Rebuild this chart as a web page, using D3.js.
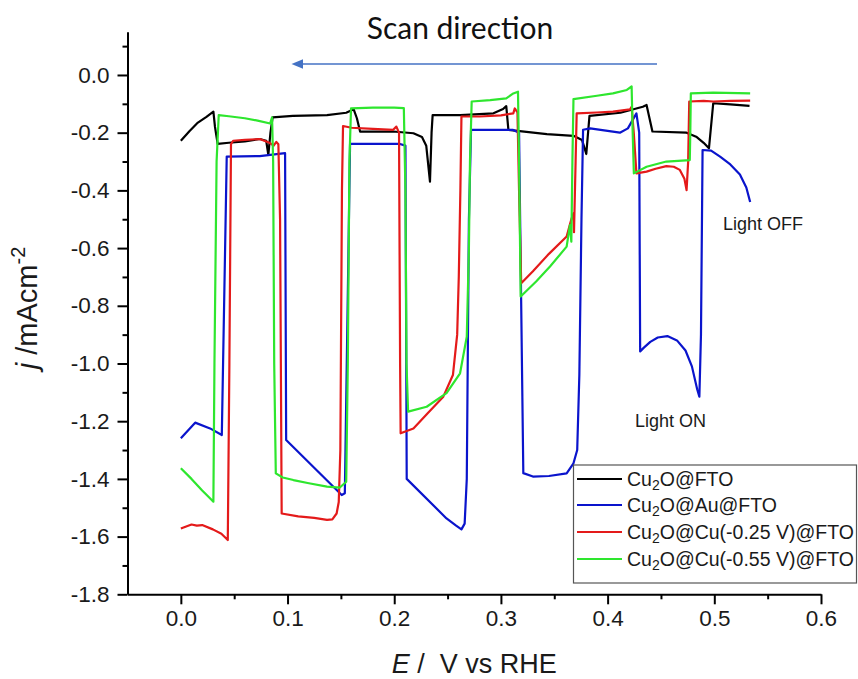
<!DOCTYPE html>
<html>
<head>
<meta charset="utf-8">
<script src="https://d3js.org/d3.v7.min.js"></script>
<style>
    body { margin: 0; background: #fff; }
    svg { display: block; }
</style>
</head>
<body>
<svg id="chart" width="858" height="679"></svg>
<script>
// values: [E (V vs RHE), j (mA cm-2)]
const cuFto = [
    [0.0, -0.228], [0.008, -0.195], [0.016, -0.165], [0.024, -0.145], [0.0305, -0.127],
    [0.032, -0.18], [0.0345, -0.239], [0.045, -0.235], [0.06, -0.23], [0.074, -0.222],
    [0.080, -0.228], [0.082, -0.277], [0.084, -0.2], [0.086, -0.147], [0.105, -0.142],
    [0.137, -0.139], [0.155, -0.131], [0.162, -0.119], [0.165, -0.15], [0.168, -0.196],
    [0.199, -0.196], [0.218, -0.202], [0.226, -0.215], [0.230, -0.245], [0.2335, -0.370],
    [0.235, -0.2], [0.236, -0.139], [0.262, -0.139], [0.293, -0.133], [0.302, -0.118],
    [0.305, -0.108], [0.307, -0.19], [0.343, -0.205], [0.368, -0.211], [0.376, -0.225],
    [0.380, -0.274], [0.383, -0.142], [0.412, -0.131], [0.433, -0.110], [0.4365, -0.104],
    [0.442, -0.196], [0.474, -0.200], [0.483, -0.214], [0.490, -0.235], [0.495, -0.254],
    [0.499, -0.098], [0.515, -0.102], [0.533, -0.107]
]

const cuAuFto = [
    [0.0, -1.259], [0.0134, -1.205], [0.0274, -1.225], [0.0384, -1.248], [0.043, -0.283],
    [0.074, -0.281], [0.0977, -0.271], [0.0987, -1.265], [0.1508, -1.456], [0.1537, -1.45],
    [0.1586, -0.239], [0.2054, -0.239], [0.2105, -0.245], [0.2117, -1.40], [0.249, -1.537],
    [0.258, -1.562], [0.263, -1.575], [0.266, -1.555], [0.268, -1.40], [0.270, -0.5],
    [0.272, -0.19], [0.311, -0.19], [0.317, -0.20], [0.318, -0.5], [0.321, -1.38],
    [0.330, -1.392], [0.345, -1.39], [0.3616, -1.381], [0.368, -1.346], [0.3715, -1.30],
    [0.3735, -1.04], [0.3755, -0.5], [0.377, -0.19], [0.3836, -0.185], [0.4115, -0.20],
    [0.419, -0.185], [0.427, -0.133], [0.4296, -0.2], [0.4305, -0.958], [0.434, -0.945],
    [0.440, -0.925], [0.447, -0.91], [0.456, -0.905], [0.465, -0.92], [0.473, -0.955],
    [0.479, -1.01], [0.484, -1.09], [0.486, -1.115], [0.4875, -0.9], [0.489, -0.26],
    [0.497, -0.262], [0.5054, -0.283], [0.515, -0.31], [0.524, -0.345], [0.530, -0.39],
    [0.5336, -0.44]
]

const cuCu025 = [
    [0.0, -1.572], [0.005, -1.565], [0.01, -1.558], [0.015, -1.562], [0.02, -1.56],
    [0.03, -1.575], [0.038, -1.59], [0.044, -1.612], [0.0455, -1.0], [0.047, -0.24],
    [0.049, -0.228], [0.06, -0.225], [0.074, -0.222], [0.083, -0.235], [0.087, -0.245],
    [0.0895, -0.232], [0.0914, -0.24], [0.093, -0.5], [0.0945, -1.52], [0.110, -1.53],
    [0.125, -1.535], [0.137, -1.542], [0.142, -1.54], [0.146, -1.52], [0.148, -1.48],
    [0.1495, -1.3], [0.151, -0.4], [0.152, -0.177], [0.16, -0.183], [0.18, -0.187],
    [0.199, -0.19], [0.202, -0.179], [0.2045, -0.2], [0.2055, -1.0], [0.206, -1.242],
    [0.218, -1.225], [0.232, -1.17], [0.246, -1.115], [0.255, -1.04], [0.259, -0.9],
    [0.2605, -0.7], [0.262, -0.4], [0.263, -0.144], [0.28, -0.144], [0.3, -0.14],
    [0.3116, -0.133], [0.313, -0.116], [0.3155, -0.13], [0.317, -0.4], [0.319, -0.722],
    [0.33, -0.68], [0.345, -0.62], [0.3616, -0.56], [0.366, -0.50], [0.368, -0.48],
    [0.3685, -0.545], [0.370, -0.30], [0.371, -0.133], [0.39, -0.13], [0.405, -0.127],
    [0.421, -0.119], [0.4225, -0.11], [0.4245, -0.2], [0.427, -0.341], [0.4365, -0.335],
    [0.445, -0.325], [0.455, -0.316], [0.462, -0.318], [0.4677, -0.329], [0.472, -0.36],
    [0.474, -0.399], [0.4755, -0.3], [0.4765, -0.092], [0.49, -0.09], [0.499, -0.092],
    [0.515, -0.09], [0.5336, -0.089]
]

const cuCu055 = [
    [0.0, -1.363], [0.01, -1.40], [0.02, -1.44], [0.028, -1.47], [0.0305, -1.479],
    [0.0315, -1.0], [0.0335, -0.3], [0.0355, -0.139], [0.045, -0.143], [0.06, -0.150],
    [0.072, -0.158], [0.0837, -0.168], [0.0855, -0.147], [0.0865, -0.30], [0.0875, -1.0],
    [0.089, -1.381], [0.0955, -1.395], [0.1055, -1.404], [0.12, -1.415], [0.137, -1.427],
    [0.149, -1.43], [0.155, -1.41], [0.1565, -1.0], [0.158, -0.3], [0.1595, -0.116],
    [0.18, -0.113], [0.20, -0.113], [0.209, -0.115], [0.2105, -0.4], [0.2115, -1.0],
    [0.213, -1.167], [0.2304, -1.150], [0.249, -1.103], [0.2617, -1.034], [0.268, -0.907],
    [0.270, -0.6], [0.271, -0.3], [0.2726, -0.092], [0.29, -0.087], [0.305, -0.081],
    [0.3116, -0.064], [0.316, -0.058], [0.317, -0.3], [0.3185, -0.768], [0.333, -0.716],
    [0.346, -0.664], [0.3616, -0.595], [0.3647, -0.52], [0.366, -0.578], [0.367, -0.3],
    [0.368, -0.084], [0.39, -0.072], [0.405, -0.064], [0.418, -0.052], [0.4225, -0.040],
    [0.4235, -0.2], [0.4246, -0.341], [0.4365, -0.318], [0.455, -0.300], [0.477, -0.295],
    [0.4775, -0.2], [0.478, -0.064], [0.499, -0.061], [0.5336, -0.064]
]

const seriesNames = ["Cu2O@FTO", "Cu2O@Au@FTO", "Cu2O@Cu(-0.25 V)@FTO", "Cu2O@Cu(-0.55 V)@FTO"]
const seriesColors = ["#000000", "#0a14cc", "#e41a1a", "#2ee62e"]
const allSeries = [cuFto, cuAuFto, cuCu025, cuCu055]

const xMajor = [0.0, 0.1, 0.2, 0.3, 0.4, 0.5, 0.6]
const xMinor = [0.05, 0.15, 0.25, 0.35, 0.45, 0.55]
const yMajor = [0.0, -0.2, -0.4, -0.6, -0.8, -1.0, -1.2, -1.4, -1.6, -1.8]
const yMinor = [0.1, -0.1, -0.3, -0.5, -0.7, -0.9, -1.1, -1.3, -1.5, -1.7]

const svg = d3.select("#chart")
const font = "'Liberation Sans', Arial, sans-serif"

const x = d3.scaleLinear().domain([-0.05, 0.6]).range([127.5, 821])
const y = d3.scaleLinear().domain([-1.8, 0.15]).range([594.3, 31.7])

// axes
const xAxis = svg.append("g").attr("transform", `translate(0,${y(-1.8)})`)
xAxis.call(d3.axisBottom(x).tickValues(xMajor).tickSize(10).tickSizeOuter(0).tickPadding(6)
    .tickFormat(d3.format(".1f")))
svg.append("g").attr("transform", `translate(0,${y(-1.8)})`)
    .call(d3.axisBottom(x).tickValues(xMinor).tickSize(5).tickSizeOuter(0).tickFormat(""))
    .select(".domain").remove()

const yAxis = svg.append("g").attr("transform", `translate(${x(-0.05)},0)`)
yAxis.call(d3.axisLeft(y).tickValues(yMajor).tickSize(10).tickSizeOuter(0).tickPadding(8)
    .tickFormat(d3.format(".1f")))
svg.append("g").attr("transform", `translate(${x(-0.05)},0)`)
    .call(d3.axisLeft(y).tickValues(yMinor).tickSize(5).tickSizeOuter(0).tickFormat(""))
    .select(".domain").remove()

svg.selectAll(".domain, .tick line")
    .attr("stroke", "#000")
    .attr("stroke-width", 2)
svg.selectAll(".tick text")
    .attr("font-family", font)
    .attr("font-size", 22.5)
    .attr("fill", "#1a1a1a")
    .text(function () { return this.textContent.replace("\u2212", "-") })

// curves
const line = d3.line().x(d => x(d[0])).y(d => y(d[1]))
svg.append("g").selectAll("path")
    .data(allSeries)
    .join("path")
    .attr("d", line)
    .attr("fill", "none")
    .attr("stroke", (d, i) => seriesColors[i])
    .attr("stroke-width", 2.2)
    .attr("stroke-linejoin", "round")

// axis titles
const xTitle = svg.append("text")
    .attr("x", (x(-0.05) + x(0.6)) / 2)
    .attr("y", 673)
    .attr("text-anchor", "middle")
    .attr("font-family", font)
    .attr("font-size", 27)
    .attr("fill", "#1a1a1a")
    .attr("xml:space", "preserve")
xTitle.append("tspan").attr("font-style", "italic").text("E")
xTitle.append("tspan").text(" /  V vs RHE")

const yTitle = svg.append("text")
    .attr("transform", "translate(37,308) rotate(-90)")
    .attr("text-anchor", "middle")
    .attr("font-family", font)
    .attr("font-size", 29)
    .attr("fill", "#1a1a1a")
yTitle.append("tspan").attr("font-style", "italic").text("j")
yTitle.append("tspan").text(" /mAcm")
yTitle.append("tspan").attr("font-size", 20).attr("dy", -12).text("-2")

// scan direction note
svg.append("text")
    .attr("x", 460)
    .attr("y", 39)
    .attr("text-anchor", "middle")
    .attr("font-family", "Lato, 'Open Sans', sans-serif")
    .attr("font-size", 30)
    .attr("fill", "#111")
    .text("Scan direction")

svg.append("line")
    .attr("x1", 657).attr("y1", 64)
    .attr("x2", 300).attr("y2", 64)
    .attr("stroke", "#4472c4")
    .attr("stroke-width", 1.5)

svg.append("path")
    .attr("d", "M 291.5 64 L 303 59.3 L 303 68.7 z")
    .attr("fill", "#4472c4")

// light labels
svg.append("text").attr("x", 723).attr("y", 230)
    .attr("font-family", font).attr("font-size", 18).attr("fill", "#1a1a1a")
    .text("Light OFF")
svg.append("text").attr("x", 635).attr("y", 427)
    .attr("font-family", font).attr("font-size", 18).attr("fill", "#1a1a1a")
    .text("Light ON")

// legend
const legend = svg.append("g")
legend.append("rect")
    .attr("x", 573.5).attr("y", 465)
    .attr("width", 283).attr("height", 118)
    .attr("fill", "#fff")
    .attr("stroke", "#555")
    .attr("stroke-width", 1.2)

const rowY = [479, 505, 532, 559]
seriesNames.forEach((name, i) => {
    legend.append("line")
        .attr("x1", 577).attr("x2", 622)
        .attr("y1", rowY[i]).attr("y2", rowY[i])
        .attr("stroke", seriesColors[i])
        .attr("stroke-width", 2.2)
    const t = legend.append("text")
        .attr("x", 627).attr("y", rowY[i] + 7)
        .attr("font-family", font)
        .attr("font-size", 19.5)
        .attr("fill", "#1a1a1a")
    t.append("tspan").text("Cu")
    t.append("tspan").attr("font-size", 14).attr("dy", 4).text("2")
    t.append("tspan").attr("dy", -4).text(name.slice(3))
})
</script>
</body>
</html>
